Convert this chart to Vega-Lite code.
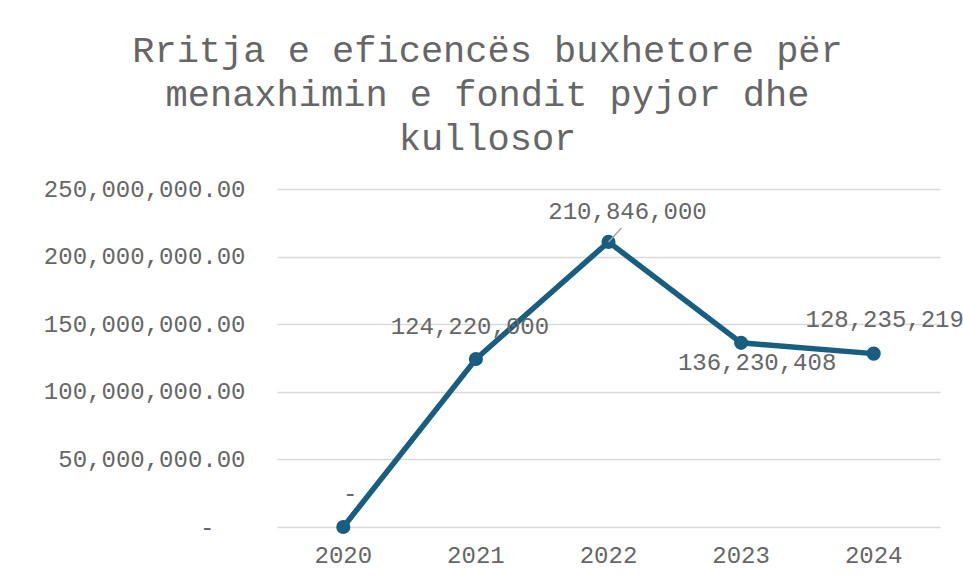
{
  "$schema": "https://vega.github.io/schema/vega-lite/v6.json",
  "width": 663,
  "height": 338,
  "autosize": {"type": "none"},
  "padding": {"left": 277, "top": 189, "right": 23, "bottom": 53},
  "background": "white",
  "title": {
    "text": ["Rritja e eficencës buxhetore për", "menaxhimin e fondit pyjor dhe", "kullosor"],
    "font": "Liberation Mono",
    "fontSize": 37,
    "fontWeight": "normal",
    "color": "#666666",
    "lineHeight": 44,
    "anchor": "middle",
    "frame": "group",
    "dx": -121,
    "offset": 19
  },
  "data": {
    "values": [
      {"year": "2020", "value": 0},
      {"year": "2021", "value": 124220000},
      {"year": "2022", "value": 210846000},
      {"year": "2023", "value": 136230408},
      {"year": "2024", "value": 128235219}
    ]
  },
  "encoding": {
    "x": {
      "field": "year",
      "type": "ordinal",
      "axis": {
        "title": null,
        "labelAngle": 0,
        "ticks": false,
        "domain": false,
        "labelPadding": 16,
        "labelFont": "Liberation Mono",
        "labelFontSize": 24,
        "labelColor": "#666666"
      }
    },
    "y": {
      "field": "value",
      "type": "quantitative",
      "scale": {"domain": [0, 250000000], "nice": false},
      "axis": {
        "title": null,
        "values": [0, 50000000, 100000000, 150000000, 200000000, 250000000],
        "labelExpr": "datum.value == 0 ? '-' : format(datum.value, ',.2f')",
        "ticks": false,
        "domain": false,
        "labelPadding": {"condition": {"test": "datum.value == 0", "value": 63}, "value": 32},
        "labelLimit": 400,
        "labelFont": "Liberation Mono",
        "labelFontSize": 24,
        "labelColor": "#666666",
        "gridColor": "#D9D9D9",
        "gridWidth": 1.5
      }
    }
  },
  "layer": [
    {
      "mark": {"type": "line", "color": "#175E81", "strokeWidth": 5.5}
    },
    {
      "mark": {"type": "point", "shape": "circle", "filled": true, "opacity": 1, "color": "#175E81", "size": 200}
    },
    {
      "transform": [{"filter": "datum.year == '2022'"}],
      "mark": {"type": "rule", "color": "#A6A6A6", "strokeWidth": 1.5, "x2Offset": 13, "y2Offset": -14},
      "encoding": {
        "x2": {"field": "year"},
        "y2": {"field": "value"}
      }
    },
    {
      "transform": [{"filter": "datum.year == '2020'"}],
      "mark": {"type": "text", "font": "Liberation Mono", "fontSize": 24, "color": "#666666", "dx": 7, "dy": -33},
      "encoding": {"text": {"value": "-"}}
    },
    {
      "transform": [{"filter": "datum.year == '2021'"}],
      "mark": {"type": "text", "font": "Liberation Mono", "fontSize": 24, "color": "#666666", "dx": -6, "dy": -32},
      "encoding": {"text": {"field": "value", "type": "quantitative", "format": ",.0f"}}
    },
    {
      "transform": [{"filter": "datum.year == '2022'"}],
      "mark": {"type": "text", "font": "Liberation Mono", "fontSize": 24, "color": "#666666", "dx": 19, "dy": -30},
      "encoding": {"text": {"field": "value", "type": "quantitative", "format": ",.0f"}}
    },
    {
      "transform": [{"filter": "datum.year == '2023'"}],
      "mark": {"type": "text", "font": "Liberation Mono", "fontSize": 24, "color": "#666666", "dx": 16, "dy": 20},
      "encoding": {"text": {"field": "value", "type": "quantitative", "format": ",.0f"}}
    },
    {
      "transform": [{"filter": "datum.year == '2024'"}],
      "mark": {"type": "text", "font": "Liberation Mono", "fontSize": 24, "color": "#666666", "dx": 11, "dy": -34},
      "encoding": {"text": {"field": "value", "type": "quantitative", "format": ",.0f"}}
    }
  ],
  "config": {
    "view": {"stroke": null}
  }
}
